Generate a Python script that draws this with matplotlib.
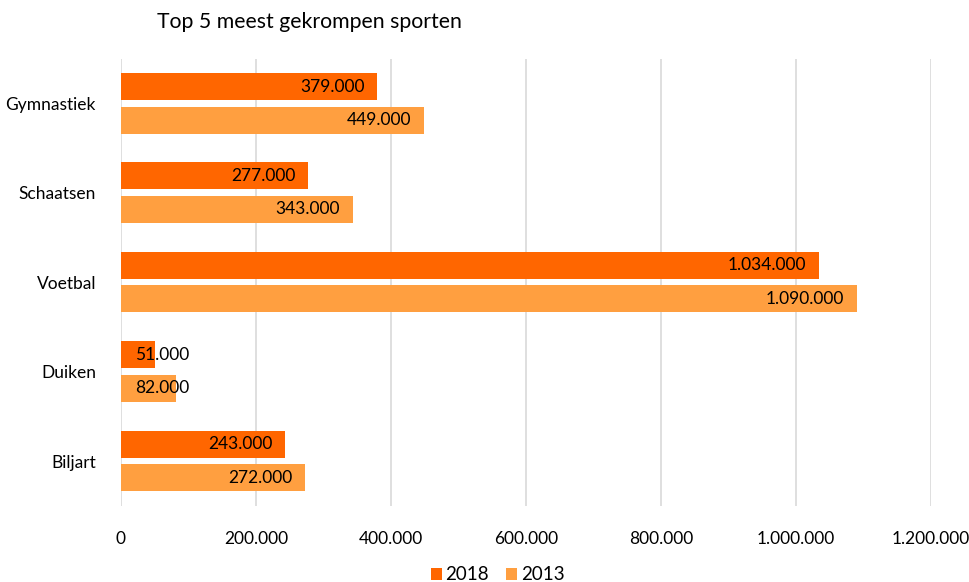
import matplotlib
matplotlib.use("Agg")
import matplotlib.pyplot as plt
from matplotlib.ticker import FuncFormatter, MultipleLocator

# Data
sports = ["Gymnastiek", "Schaatsen", "Voetbal", "Duiken", "Biljart"]
members_2018 = [379000, 277000, 1034000, 51000, 243000]
members_2013 = [449000, 343000, 1090000, 82000, 272000]
series_labels = ["2018", "2013"]
title = "Top 5 meest gekrompen sporten"

color_2018 = "#FF6600"
color_2013 = "#FF9F40"

plt.rcParams["font.family"] = ["Lato", "DejaVu Sans"]

def nl(v, pos=None):
    return f"{int(v):,}".replace(",", ".")

fig = plt.figure(figsize=(9.7, 5.82), dpi=100)
ax = fig.add_axes([121 / 970, 1 - 505.7 / 582, (931 - 121) / 970, (505.7 - 58.8) / 582])

pos = list(range(len(sports)))
h = 0.302
off1, off2 = -0.19, 0.185
p1 = [p + off1 for p in pos]
p2 = [p + off2 for p in pos]
ax.barh(p1, members_2018, height=h, color=color_2018, label=series_labels[0], zorder=2)
ax.barh(p2, members_2013, height=h, color=color_2013, label=series_labels[1], zorder=2)

ax.set_xlim(0, 1200000)
ax.set_ylim(4.5, -0.5)
ax.xaxis.set_major_locator(MultipleLocator(200000))
ax.xaxis.set_major_formatter(FuncFormatter(nl))
ax.set_yticks(pos)
ax.set_yticklabels(sports)
ax.tick_params(axis="both", length=0, labelsize=12.5, colors="#000000")
ax.tick_params(axis="y", pad=18)
ax.tick_params(axis="x", pad=18)
ax.grid(axis="x", color="#D9D9D9", linewidth=1.2, zorder=0)
for s in ax.spines.values():
    s.set_visible(False)

for ys, vals in ((p1, members_2018), (p2, members_2013)):
    for y, v in zip(ys, vals):
        if v < 150000:
            ax.annotate(nl(v), (0, y), xytext=(10, 0), textcoords="offset points",
                        ha="left", va="center", fontsize=12.5, zorder=3)
        else:
            ax.annotate(nl(v), (v, y), xytext=(-9, 0), textcoords="offset points",
                        ha="right", va="center", fontsize=12.5, zorder=3)

fig.text(157 / 970, 1 - 22 / 582, title, ha="left", va="center", fontsize=15.3)

fig.legend(loc="center", bbox_to_anchor=(0.513, 1 - 575 / 582), ncol=2, frameon=False,
           fontsize=13.5, handlelength=0.6, handleheight=0.6, handletextpad=0.2,
           columnspacing=0.9)

fig.savefig("out.png", dpi=100)
